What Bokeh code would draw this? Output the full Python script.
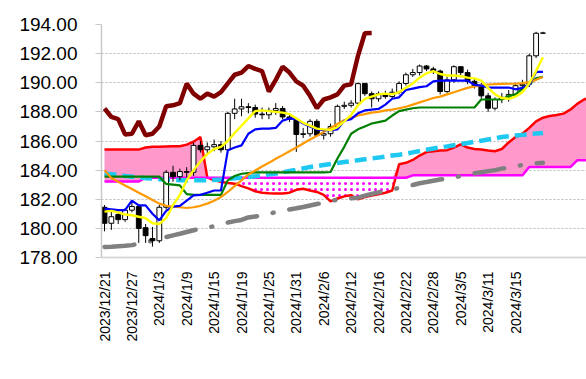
import numpy as np
from bokeh.plotting import figure
from bokeh.models import ColumnDataSource, FixedTicker, Range1d, PrintfTickFormatter
from bokeh.embed import file_html
from bokeh.resources import INLINE

# ---- data ----
dates = ["2023/12/21", "2023/12/22", "2023/12/25", "2023/12/26", "2023/12/27", "2023/12/28", "2023/12/29",
         "2024/1/2", "2024/1/3", "2024/1/4", "2024/1/5", "2024/1/8", "2024/1/9", "2024/1/10", "2024/1/11",
         "2024/1/12", "2024/1/15", "2024/1/16", "2024/1/17", "2024/1/18", "2024/1/19", "2024/1/22", "2024/1/23",
         "2024/1/24", "2024/1/25", "2024/1/26", "2024/1/29", "2024/1/30", "2024/1/31", "2024/2/1", "2024/2/2",
         "2024/2/5", "2024/2/6", "2024/2/7", "2024/2/8", "2024/2/9", "2024/2/12", "2024/2/13", "2024/2/14",
         "2024/2/15", "2024/2/16", "2024/2/19", "2024/2/20", "2024/2/21", "2024/2/22", "2024/2/23", "2024/2/26",
         "2024/2/27", "2024/2/28", "2024/2/29", "2024/3/1", "2024/3/4", "2024/3/5", "2024/3/6", "2024/3/7",
         "2024/3/8", "2024/3/11", "2024/3/12", "2024/3/13", "2024/3/14", "2024/3/15", "2024/3/18", "2024/3/19",
         "2024/3/20", "2024/3/21"]

opens = [181.45, 180.35, 180.95, 180.60, 181.25, 181.50, 180.05, 179.30, 179.15, 181.45,
         183.85, 183.55, 183.90, 183.85, 185.70, 185.40, 185.60, 185.75, 185.40, 187.90,
         188.20, 188.35, 188.30, 187.85, 187.80, 188.10, 188.23, 187.65, 187.50, 186.45,
         186.50, 187.35, 186.40, 186.50, 187.00, 188.38, 188.45, 188.60, 189.94, 189.25,
         188.90, 189.25, 189.05, 189.35, 189.95, 190.55, 190.70, 191.15, 190.95, 190.80,
         189.40, 190.20, 191.10, 190.70, 190.10, 189.80, 189.10, 188.25, 188.85, 189.00,
         189.20, 189.80, 189.90, 191.85, 193.40]
highs = [181.60, 181.30, 181.20, 181.40, 181.75, 181.60, 180.30, 180.10, 181.60, 184.00,
         184.30, 184.10, 184.20, 185.90, 186.00, 185.90, 186.10, 186.00, 188.00, 188.90,
         188.90, 188.60, 188.50, 188.30, 188.30, 188.60, 188.40, 187.90, 187.60, 186.90,
         187.50, 187.50, 186.80, 187.20, 188.50, 188.70, 188.80, 190.00, 190.00, 189.40,
         189.40, 189.45, 189.60, 190.10, 190.70, 190.95, 191.25, 191.20, 191.10, 190.90,
         190.40, 191.20, 191.15, 190.90, 190.30, 190.00, 189.30, 189.00, 189.30, 189.50,
         190.00, 190.20, 192.00, 193.50, 193.50]
lows = [179.80, 179.90, 180.30, 180.45, 181.10, 179.00, 179.00, 178.75, 179.00, 181.30,
        183.20, 183.30, 183.50, 183.60, 185.20, 185.10, 185.30, 185.20, 185.30, 187.50,
        187.70, 187.90, 187.60, 187.50, 187.50, 187.80, 187.50, 187.30, 185.25, 186.20,
        186.30, 186.30, 186.10, 186.30, 186.80, 188.20, 188.30, 188.40, 189.10, 188.30,
        188.70, 188.90, 188.90, 189.20, 189.80, 190.40, 190.50, 190.80, 190.60, 189.20,
        189.30, 190.00, 190.50, 189.90, 189.60, 188.90, 188.00, 188.10, 188.60, 188.70,
        189.00, 189.50, 189.70, 191.70, 193.35]
closes = [180.35, 180.80, 180.60, 181.25, 181.50, 180.00, 179.50, 179.15, 181.45, 183.85,
          183.55, 183.90, 183.85, 185.70, 185.40, 185.60, 185.75, 185.40, 187.90, 188.20,
          188.35, 188.30, 187.85, 187.80, 188.10, 188.23, 187.65, 187.50, 186.45, 186.50,
          187.35, 186.40, 186.50, 187.00, 188.38, 188.45, 188.60, 189.94, 189.25, 188.90,
          189.25, 189.05, 189.35, 189.95, 190.55, 190.70, 191.15, 190.95, 190.80, 189.40,
          190.20, 191.10, 190.70, 190.10, 189.80, 189.10, 188.25, 188.85, 189.00, 189.20,
          189.80, 189.90, 191.85, 193.40, 193.42]

tenkan = [181.35, 181.30, 181.25, 181.25, 181.90, 181.58, 181.58, 181.00, 180.55, 181.20,
          181.50, 181.55, 181.90, 182.27, 182.30, 182.45, 182.60, 182.60, 185.36, 185.55,
          185.70, 186.50, 186.80, 186.85, 186.85, 186.90, 187.40, 187.55, 187.50, 187.20,
          187.00, 186.80, 186.75, 186.75, 186.80, 187.40, 187.50, 187.90, 188.10, 188.15,
          188.20, 188.50, 188.90, 189.00, 189.50, 189.60, 189.70, 189.76, 190.10, 190.15,
          190.15, 190.15, 190.15, 190.15, 189.85, 189.80, 189.67, 189.67, 189.67, 189.67,
          189.55, 189.65, 189.85, 190.74, 190.74]
kijun = [183.55, 183.55, 183.55, 183.55, 183.55, 183.55, 183.55, 183.55, 183.55, 183.05,
         183.00, 182.95, 182.35, 182.30, 182.30, 182.30, 182.30, 182.30, 183.30, 183.60,
         183.75, 183.80, 183.85, 183.85, 183.85, 183.85, 183.85, 183.85, 183.85, 183.85,
         183.85, 183.85, 183.85, 183.87, 184.80, 185.60, 186.50, 186.80, 187.00, 187.20,
         187.30, 187.40, 187.75, 188.05, 188.15, 188.25, 188.30, 188.30, 188.30, 188.30,
         188.30, 188.30, 188.30, 188.30, 188.30, 188.85, 188.85, 188.85, 188.85, 189.10,
         189.20, 189.60, 189.90, 190.30, 190.40]
ma_short = [181.15, 181.20, 181.10, 180.95, 180.90, 180.80, 180.70, 180.35, 180.30, 180.70,
            181.60, 182.30, 183.30, 184.00, 184.60, 185.10, 185.45, 185.60, 186.00, 186.55,
            187.05, 187.55, 188.05, 188.10, 188.05, 188.00, 187.95, 187.85, 187.55, 187.25,
            187.05, 186.85, 186.80, 186.75, 186.95, 187.35, 187.80, 188.45, 188.90, 189.05,
            189.20, 189.25, 189.20, 189.35, 189.65, 189.95, 190.35, 190.65, 190.80, 190.60,
            190.50, 190.50, 190.45, 190.35, 190.30, 190.15, 189.65, 189.20, 188.95, 188.90,
            189.05, 189.35, 189.95, 190.80, 191.75]
ma_mid = [184.00, 183.45, 183.20, 182.95, 182.70, 182.45, 182.20, 181.95, 181.70, 181.55,
          181.50, 181.45, 181.40, 181.45, 181.55, 181.70, 181.90, 182.15, 182.50, 182.90,
          183.30, 183.70, 183.97, 184.25, 184.50, 184.78, 185.03, 185.30, 185.55, 185.83,
          186.10, 186.35, 186.63, 186.90, 187.17, 187.42, 187.60, 187.75, 187.85, 187.95,
          188.00, 188.10, 188.15, 188.25, 188.35, 188.50, 188.65, 188.80, 188.95, 189.05,
          189.20, 189.35, 189.50, 189.65, 189.75, 189.82, 189.88, 189.90, 189.92, 189.93,
          189.93, 189.97, 190.05, 190.20, 190.40]
ma_long = [183.78, 183.72, 183.66, 183.60, 183.55, 183.50, 183.45, 183.42, 183.38, 183.35,
           183.33, 183.31, 183.30, 183.30, 183.30, 183.31, 183.33, 183.36, 183.40, 183.44,
           183.48, 183.53, 183.58, 183.64, 183.70, 183.76, 183.85, 183.94, 184.03, 184.12,
           184.21, 184.28, 184.35, 184.42, 184.49, 184.56, 184.62, 184.68, 184.74, 184.80,
           184.86, 184.93, 185.00, 185.06, 185.13, 185.22, 185.31, 185.40, 185.48, 185.56,
           185.63, 185.71, 185.78, 185.86, 185.94, 186.02, 186.10, 186.18, 186.27, 186.32,
           186.37, 186.42, 186.47, 186.51, 186.55]
ma_200 = [178.72, 178.74, 178.77, 178.80, 178.85, 178.95, 179.05, 179.15, 179.28, 179.40,
          179.52, 179.63, 179.75, 179.87, 179.98, 180.06, 180.14, 180.27, 180.40, 180.50,
          180.58, 180.75, 180.82, 180.89, 181.00, 181.12, 181.20, 181.30, 181.38, 181.47,
          181.57, 181.67, 181.77, 181.87, 181.97, 182.00, 182.06, 182.11, 182.25, 182.37,
          182.47, 182.57, 182.67, 182.78, 182.89, 182.98, 183.10, 183.18, 183.27, 183.35,
          183.42, 183.48, 183.60, 183.71, 183.79, 183.86, 183.93, 184.00, 184.10, 184.20,
          184.28, 184.35, 184.42, 184.47, 184.50]
span_a = [185.41, 185.41, 185.41, 185.41, 185.41, 185.41, 185.55, 185.60, 185.60, 185.62,
          185.64, 185.64, 185.75, 185.95, 186.27, 183.50, 183.30, 183.20, 183.12, 183.07,
          182.90, 182.75, 182.55, 182.45, 182.42, 182.40, 182.40, 182.45, 182.65, 182.72,
          182.60, 182.50, 182.30, 181.85, 182.05, 182.20, 182.27, 182.00, 182.15, 182.25,
          182.35, 182.45, 182.60, 184.40, 184.50, 184.70, 185.00, 185.24, 185.30, 185.35,
          185.37, 185.55, 185.77, 185.55, 185.45, 185.42, 185.35, 185.30, 185.45, 185.90,
          186.27, 186.50, 186.90, 187.35, 187.60, 187.72, 187.78, 187.88, 188.15, 188.55,
          188.85, 189.00]
span_b = [183.22, 183.22, 183.22, 183.22, 183.22, 183.22, 183.48, 183.48, 183.48, 183.48,
          183.48, 183.48, 183.48, 183.48, 183.48, 183.48, 183.48, 183.48, 183.48, 183.48,
          183.48, 183.48, 183.48, 183.48, 183.48, 183.48, 183.48, 183.48, 183.48, 183.48,
          183.48, 183.48, 183.48, 183.48, 183.48, 183.48, 183.48, 183.48, 183.48, 183.48,
          183.48, 183.48, 183.48, 183.48, 183.48, 183.64, 183.64, 183.64, 183.64, 183.64,
          183.64, 183.64, 183.64, 183.64, 183.64, 183.64, 183.64, 183.64, 183.64, 183.64,
          183.64, 183.64, 184.21, 184.21, 184.21, 184.21, 184.21, 184.21, 184.21, 184.67,
          184.67, 184.67]
chikou_shift = 25
y_ticks = [178, 180, 182, 184, 186, 188, 190, 192, 194]

# ---- derived ----
n = len(closes)
x = np.arange(n)
xs = np.arange(len(span_a))
sa = np.array(span_a)
sb = np.array(span_b)
o = np.array(opens)
c = np.array(closes)
up = c >= o

candles = ColumnDataSource(dict(
    x=x, high=highs, low=lows,
    top=np.maximum(o, c), bottom=np.minimum(o, c),
    fill=["#ffffff" if u else "#000000" for u in up]))

p = figure(width=586, height=370, output_backend="svg", toolbar_location=None,
           x_range=Range1d(-0.44, 70.36), y_range=Range1d(178, 194),
           min_border_left=101, min_border_right=0, min_border_top=24, min_border_bottom=113)
p.outline_line_color = None
p.background_fill_color = "white"
p.border_fill_color = "white"

# cloud
p.varea(x=xs, y1=sb, y2=np.maximum(sa, sb), fill_color="#ff99cc", fill_alpha=1.0)
p.varea(x=xs, y1=np.minimum(sa, sb), y2=sb, fill_alpha=0.0,
        hatch_pattern="dot", hatch_color="#ff00ff", hatch_scale=6, hatch_weight=2)
p.line(xs, sa, line_color="#ff0000", line_width=2.5)
p.line(xs, sb, line_color="#ff00ff", line_width=2.5)

# long moving averages
p.line(x, ma_200, line_color="#808080", line_width=4.5, line_dash="30 16 1 16", line_cap="round")
p.line(x, ma_long, line_color="#1ec8f0", line_width=4.5, line_dash="12 6")

# candles
p.segment(x0="x", y0="low", x1="x", y1="high", source=candles, line_color="#000000", line_width=1)
p.vbar(x="x", top="top", bottom="bottom", width=0.7, source=candles,
       fill_color="fill", line_color="#000000", line_width=1)

# lines
p.line(x, kijun, line_color="#008000", line_width=2.2)
p.line(x, ma_mid, line_color="#ff9900", line_width=2.2)
p.line(x, tenkan, line_color="#0000ff", line_width=2.2)
p.line(x, ma_short, line_color="#ffff00", line_width=2.4)

# lagging span
p.line(x[chikou_shift:] - chikou_shift, c[chikou_shift:], line_color="#800000", line_width=4.5)

# axes
p.xgrid.visible = False
p.ygrid.grid_line_color = "#b8b8b8"
p.ygrid.grid_line_dash = "2 2"
p.ygrid.grid_line_width = 1

p.yaxis.ticker = FixedTicker(ticks=y_ticks)
p.yaxis.formatter = PrintfTickFormatter(format="%.2f")
p.yaxis.major_label_text_font = "Liberation Sans"
p.yaxis.major_label_text_font_size = "19px"
p.yaxis.major_label_text_color = "#000000"
p.yaxis.axis_line_color = "#c8c8c8"
p.yaxis.axis_line_width = 1.5
p.yaxis.major_tick_line_color = "#c8c8c8"
p.yaxis.major_tick_out = 6
p.yaxis.major_tick_in = 0
p.yaxis.minor_tick_line_color = None
p.yaxis.major_label_standoff = 18

tick_idx = list(range(0, 61, 4))
p.xaxis.ticker = FixedTicker(ticks=tick_idx)
p.xaxis.major_label_overrides = {i: dates[i] for i in tick_idx}
p.xaxis.major_label_orientation = np.pi / 2
p.xaxis.major_label_text_font = "Liberation Sans"
p.xaxis.major_label_text_font_size = "14px"
p.xaxis.major_label_text_color = "#000000"
p.xaxis.axis_line_color = "#d9d9d9"
p.xaxis.axis_line_width = 2
p.xaxis.major_tick_line_color = None
p.xaxis.minor_tick_line_color = None
p.xaxis.major_label_standoff = 8

open("out.html", "w").write(file_html(p, INLINE))
